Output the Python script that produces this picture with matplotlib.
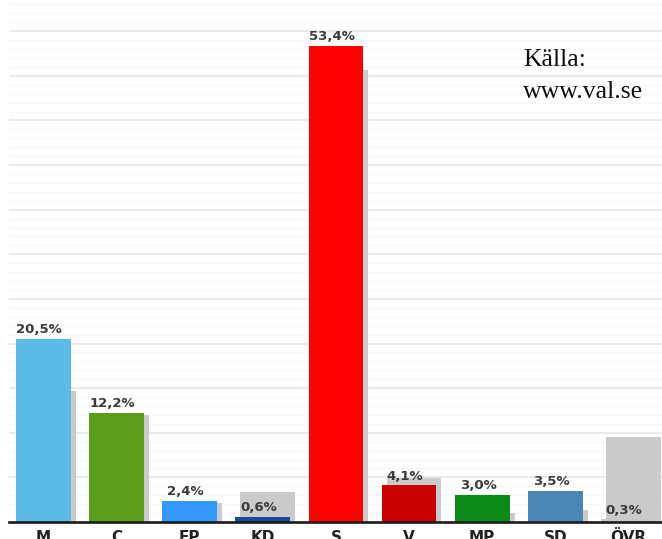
import matplotlib
matplotlib.use("Agg")
import matplotlib.pyplot as plt
import numpy as np

parties = ["M", "C", "FP", "KD", "S", "V", "MP", "SD", "ÖVR"]
results = [20.5, 12.2, 2.4, 0.6, 53.4, 4.1, 3.0, 3.5, 0.3]
previous = [14.7, 12.0, 2.1, 3.4, 50.6, 4.9, 1.0, 1.3, 9.5]
labels = ["20,5%", "12,2%", "2,4%", "0,6%", "53,4%", "4,1%", "3,0%", "3,5%", "0,3%"]
colors = ["#5bbbe6", "#5a9e1a", "#3399ff", "#1c4a9a", "#ff0000",
          "#c80000", "#0a8a18", "#4a86b6", "#c8c8c8"]
source_lines = ["Källa:", "www.val.se"]

W, H = 662, 539
fig = plt.figure(figsize=(W / 100, H / 100), dpi=100)
ax_left = 9 / W
ax_bottom = 1 - 522 / H
ax = fig.add_axes([ax_left, ax_bottom, 1 - ax_left, 1 - ax_bottom])

x = np.arange(len(parties))
width = 0.75
shadow_shift = 0.068

# gridlines
for v in range(1, 59):
    major = (v % 5 == 0)
    ax.axhline(v, color="#eaeaea" if major else "#f7f7f7",
               lw=1.4 if major else 0.9, zorder=0)

ax.bar(x + shadow_shift, previous, width=width, color="#cbcbcb", zorder=1)
ax.bar(x, results, width=width, color=colors, zorder=2)

for xi, v, lab in zip(x, results, labels):
    ax.annotate(lab, (xi, v), xytext=(-3, 2), textcoords="offset points",
                ha="center", va="bottom", fontsize=9.5, fontweight="bold",
                color="#3a3a3a", zorder=3)

ax.set_xlim(-0.472, 8.46)
ax.set_ylim(0, 58.5)
ax.set_xticks(x)
ax.set_xticklabels(parties, fontsize=11, fontweight="bold", color="#222222")
ax.tick_params(axis="x", length=0, pad=6)
ax.set_yticks([])
for s in ["top", "right", "left"]:
    ax.spines[s].set_visible(False)
ax.spines["bottom"].set_linewidth(1.9)
ax.spines["bottom"].set_color("#1a1a1a")
ax.spines["bottom"].set_zorder(4)

fig.text(523 / W, 1 - 66 / H, source_lines[0], family="Liberation Serif",
         fontsize=18.5, va="baseline", ha="left", color="#111111")
fig.text(523 / W, 1 - 98 / H, source_lines[1], family="Liberation Serif",
         fontsize=18.5, va="baseline", ha="left", color="#111111")

fig.savefig("out.png", dpi=100)
